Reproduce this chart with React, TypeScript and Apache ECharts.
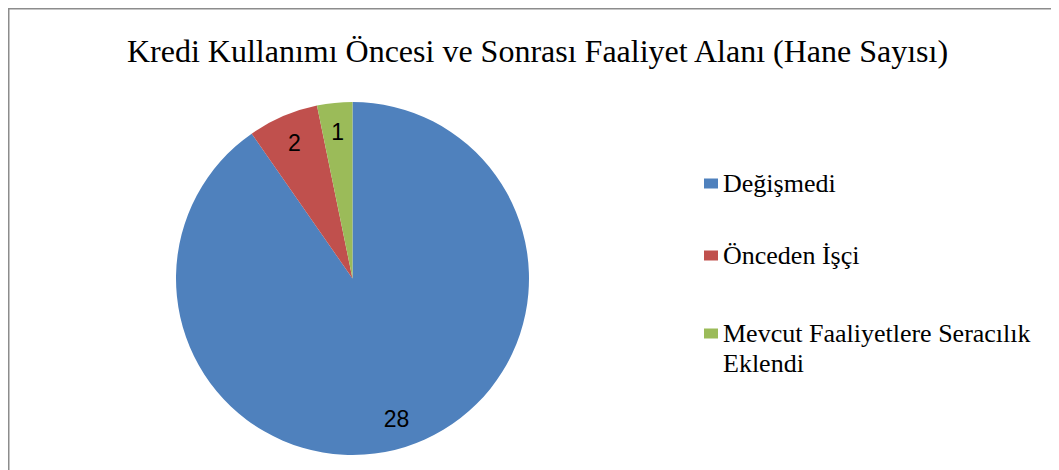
import React, { useEffect, useRef } from "react";
import * as echarts from "echarts";

const titleText = "Kredi Kullanımı Öncesi ve Sonrası Faaliyet Alanı (Hane Sayısı)";
const categories = ["Değişmedi", "Önceden İşçi", "Mevcut Faaliyetlere Seracılık Eklendi"];
const values = [28, 2, 1];
const colors = ["#4F81BD", "#C0504D", "#9BBB59"];

export default function App() {
  const ref = useRef<HTMLDivElement>(null);
  useEffect(() => {
    if (!ref.current) return;
    const chart = echarts.init(ref.current, null, { renderer: "svg" });
    const data = categories.map((name, i) => ({ name, value: values[i] }));
    const legendText = {
      fontFamily: "Liberation Serif",
      fontSize: 26,
      color: "#000",
      lineHeight: 30,
    };
    const legendTops = [160.5, 232.5, 280.5];
    chart.setOption({
      animation: false,
      color: colors,
      title: {
        text: titleText,
        left: "center",
        top: 22,
        textStyle: {
          fontFamily: "Liberation Serif",
          fontSize: 32,
          fontWeight: "normal",
          color: "#000",
        },
      },
      graphic: [
        {
          type: "rect",
          shape: { x: 0.75, y: 0.75, width: 1057.5, height: 468.5 },
          style: { fill: "none", stroke: "#8c8c8c", lineWidth: 1.5 },
          silent: true,
        },
      ],
      legend: categories.map((name, i) => ({
        data: [{ name }],
        formatter: (n: string) => (i === 2 ? "\n" + n.replace("Seracılık ", "Seracılık\n") : n),
        orient: "vertical",
        left: 696,
        top: legendTops[i],
        padding: 0,
        itemWidth: 14,
        itemHeight: 10,
        icon: "rect",
        selectedMode: false,
        textStyle: legendText,
      })),
      series: [
        {
          type: "pie",
          center: [344.5, 270.5],
          radius: [0, 176.5],
          startAngle: 90,
          clockwise: true,
          label: { show: false },
          labelLine: { show: false },
          emphasis: { disabled: true },
          data,
        },
        {
          type: "pie",
          center: [344.5, 270.5],
          radius: [112, 176.5],
          startAngle: 90,
          clockwise: true,
          silent: true,
          itemStyle: { color: "rgba(0,0,0,0)" },
          label: {
            show: true,
            position: "inside",
            formatter: "{c}",
            fontFamily: "Liberation Sans",
            fontSize: 23,
            color: "#000",
          },
          labelLine: { show: false },
          emphasis: { disabled: true },
          data,
        },
      ],
    });
    return () => chart.dispose();
  }, []);
  return <div ref={ref} style={{ width: 1059, height: 470 }} />;
}
